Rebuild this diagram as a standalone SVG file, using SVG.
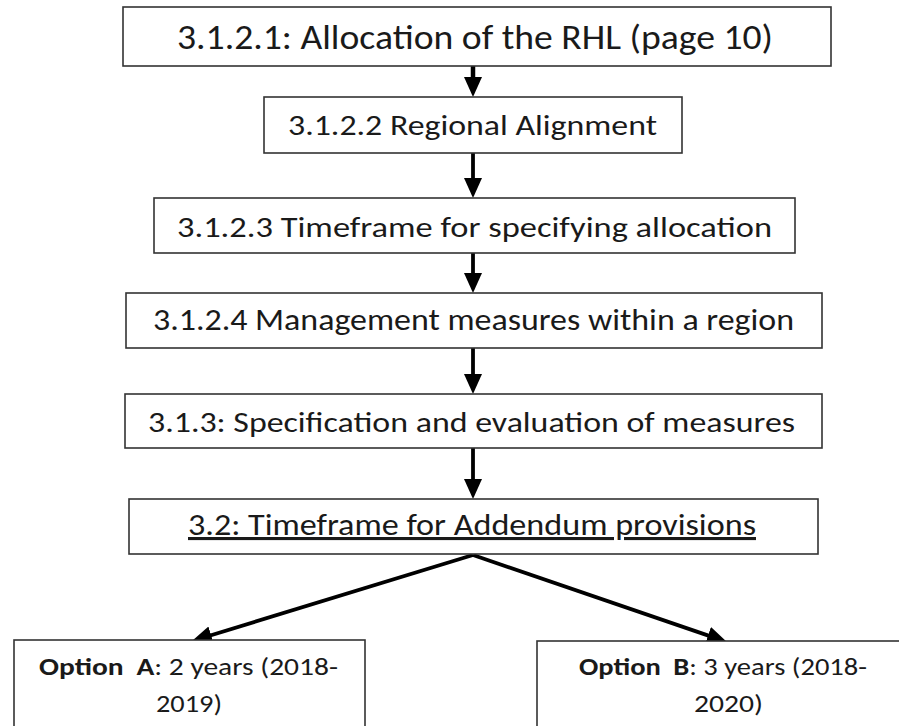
<svg xmlns="http://www.w3.org/2000/svg" width="899" height="726" viewBox="0 0 899 726">
<style>
  .box { fill: #ffffff; stroke: #333333; stroke-width: 1.6; }
  .t { font-family: Carlito, Calibri, Lato, "Open Sans", sans-serif; fill: #1a1a1a; text-anchor: middle; }
  .b { font-weight: bold; }
  .conn { stroke: #000000; stroke-width: 3.8; fill: none; marker-end: url(#ah); }
</style>
<defs>
  <marker id="ah" markerUnits="userSpaceOnUse" markerWidth="22" markerHeight="20" refX="12" refY="9" orient="auto">
    <path d="M0,0 L20,9 L0,18 Z" fill="#000000"/>
  </marker>
</defs>
<rect width="899" height="726" fill="#ffffff"/>

<g id="connectors">
  <line class="conn" x1="473" y1="66" x2="473" y2="89" style="stroke-width:4.5"/>
  <line class="conn" x1="473" y1="153" x2="473" y2="190"/>
  <line class="conn" x1="473" y1="253" x2="473" y2="285"/>
  <line class="conn" x1="473" y1="348" x2="473" y2="386"/>
  <line class="conn" x1="473" y1="448" x2="473" y2="491"/>
  <line class="conn" x1="473" y1="555" x2="199.6" y2="638.7"/>
  <line class="conn" x1="473" y1="555" x2="719.4" y2="639.4"/>
</g>

<g id="n1">
  <rect class="box" x="123" y="7" width="708" height="59"/>
  <text class="t" x="475" y="49" font-size="35" textLength="596" lengthAdjust="spacingAndGlyphs">3.1.2.1: Allocation of the RHL (page 10)</text>
</g>
<g id="n2">
  <rect class="box" x="264" y="97" width="418" height="56"/>
  <text class="t" x="472.5" y="135" font-size="28" textLength="369" lengthAdjust="spacingAndGlyphs">3.1.2.2 Regional Alignment</text>
</g>
<g id="n3">
  <rect class="box" x="154" y="198" width="641" height="55"/>
  <text class="t" x="474.5" y="237" font-size="28" textLength="595" lengthAdjust="spacingAndGlyphs">3.1.2.3 Timeframe for specifying allocation</text>
</g>
<g id="n4">
  <rect class="box" x="126" y="293" width="696" height="55"/>
  <text class="t" x="473.5" y="330" font-size="30" textLength="641" lengthAdjust="spacingAndGlyphs">3.1.2.4 Management measures within a region</text>
</g>
<g id="n5">
  <rect class="box" x="125" y="394" width="697" height="54"/>
  <text class="t" x="471.5" y="432" font-size="29" textLength="647" lengthAdjust="spacingAndGlyphs">3.1.3: Specification and evaluation of measures</text>
</g>
<g id="n6">
  <rect class="box" x="129" y="499" width="689" height="55"/>
  <text class="t" x="472" y="535" font-size="31" textLength="568" lengthAdjust="spacingAndGlyphs" text-decoration="underline">3.2: Timeframe for Addendum provisions</text>
</g>
<g id="optA">
  <rect class="box" x="14" y="640" width="351" height="95"/>
  <text class="t" x="188.5" y="675" font-size="24" textLength="299" lengthAdjust="spacingAndGlyphs"><tspan class="b">Option</tspan><tspan class="b" dx="5"> A</tspan>: 2 years (2018-</text>
  <text class="t" x="189" y="712" font-size="24" textLength="66" lengthAdjust="spacingAndGlyphs">2019)</text>
</g>
<g id="optB">
  <rect class="box" x="537" y="641" width="380" height="95"/>
  <text class="t" x="723" y="675" font-size="24" textLength="288" lengthAdjust="spacingAndGlyphs"><tspan class="b">Option</tspan><tspan class="b" dx="5"> B</tspan>: 3 years (2018-</text>
  <text class="t" x="728.5" y="712" font-size="24" textLength="69" lengthAdjust="spacingAndGlyphs">2020)</text>
</g>
</svg>
